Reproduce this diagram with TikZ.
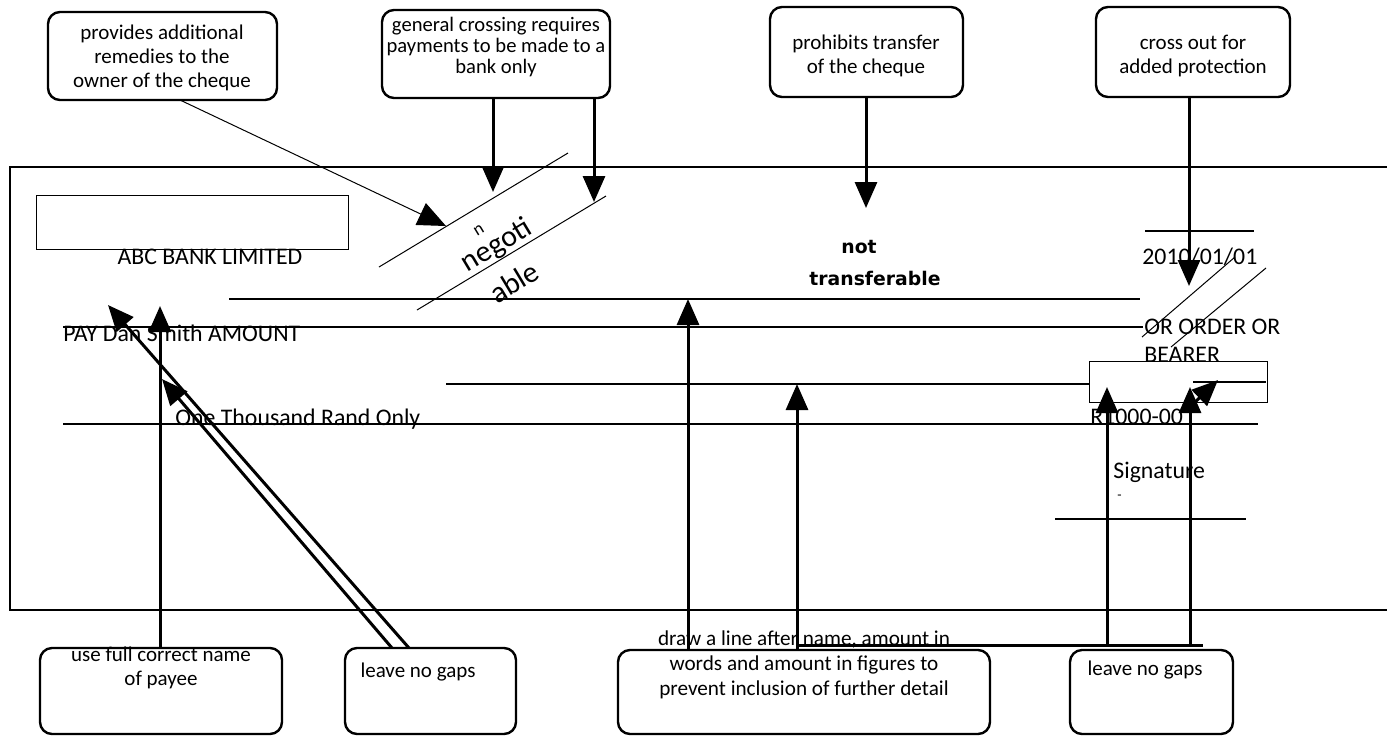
\documentclass[tikz,border=0pt]{standalone}
\usepackage{fontspec}
\setmainfont{Carlito}
\newfontfamily\dvs{DejaVu Sans}
\usetikzlibrary{arrows.meta}
\begin{document}
\begin{tikzpicture}[x=0.5pt,y=-0.5pt,
  callout/.style={draw,line width=1.2pt,rounded corners=6pt,inner sep=0pt},
  txt/.style={inner sep=0pt,font=\fontsize{10.5}{12}\selectfont,align=center},
  chq/.style={inner sep=0pt,font=\fontsize{11.9}{14}\selectfont},
  thinln/.style={line width=0.5pt},
  rule/.style={line width=0.75pt},
  arr/.style={line width=1.5pt,-{Triangle[length=13pt,width=11pt]}},
  thinarr/.style={line width=0.5pt,-{Triangle[length=14pt,width=12pt]}}]
\useasboundingbox (0,0) rectangle (1387,736);
% cheque outline
\draw[line width=0.7pt] (1387,167) -- (10,167) -- (10,610) -- (1387,610);
% top callouts
\node[callout,minimum width=114.5pt,minimum height=44pt] (A) at (162.5,56) {};
\node[callout,minimum width=114pt,minimum height=44pt] (B) at (496,54) {};
\node[callout,minimum width=96.5pt,minimum height=45pt] (C) at (866.5,52) {};
\node[callout,minimum width=97pt,minimum height=45pt] (D) at (1193,52) {};
\node[txt] (tA) at (162,58) {provides additional\\remedies to the\\owner of the cheque};
\node[txt,font=\fontsize{10.3}{10.5}\selectfont] (tB) at (496,47) {general crossing requires\\payments to be made to a\\bank only};
\node[txt] (tC) at (866,56) {prohibits transfer\\of the cheque};
\node[txt] (tD) at (1193,56) {cross out for\\added protection};
% bottom callouts
\node[callout,minimum width=121pt,minimum height=43pt] (E) at (161,691) {};
\node[callout,minimum width=85.5pt,minimum height=43pt] (F) at (430.5,691) {};
\node[callout,minimum width=186pt,minimum height=42pt] (G) at (804,692) {};
\node[callout,minimum width=81.5pt,minimum height=42pt] (H) at (1151.5,692) {};
\node[txt] (tE) at (161,668) {use full correct name\\of payee};
\node[txt] (tF) at (418,672) {leave no gaps};
\node[txt,font=\fontsize{10.6}{12.5}\selectfont] (tG) at (804,665) {draw a line after name, amount in\\words and amount in figures to\\prevent inclusion of further detail};
\node[txt] (tH) at (1145,670) {leave no gaps};
% cheque contents
\draw[thinln] (36,195) rectangle (348,249);
\node[chq] (bank) at (210,257) {ABC BANK LIMITED};
\node[chq,anchor=west] (pay) at (63,333) {PAY Dan Smith AMOUNT};
\node[chq,anchor=west] (words) at (175,419) {One Thousand Rand Only};
\node[chq,anchor=west] (fig) at (1090,417) {R1000-00};
\node[chq,anchor=west] (date) at (1142,257) {2010/01/01};
\node[chq,anchor=west,align=left] (order) at (1144,341) {OR ORDER OR\\BEARER};
\node[chq,anchor=west] (sig) at (1113,472) {Signature};
\node[chq,anchor=west,font=\fontsize{7}{8}\selectfont] (dash) at (1117,497) {-};
\node[inner sep=0pt,font=\dvs\bfseries\fontsize{9.4}{11}\selectfont] (not) at (859,247) {not};
\node[inner sep=0pt,font=\dvs\bfseries\fontsize{9.4}{11}\selectfont] (transf) at (875,278) {transferable};
% rules
\draw[rule] (229,299) -- (1140,299);
\draw[rule] (63,327) -- (1143,327);
\draw[rule] (446,384) -- (1090,384);
\draw[rule] (63,424) -- (1258,424);
\draw[rule] (1145,231) -- (1254,231);
\draw[rule] (1055,519) -- (1246,519);
\draw[thinln] (1089,361) rectangle (1267,402);
\draw[rule] (1193,382) -- (1266,382);
% crossings
\draw[thinln] (379,267) -- (568,153);
\draw[thinln] (417,310) -- (606,196);
\node[inner sep=0pt,rotate=31,font=\fontsize{9}{9}\selectfont] (nn) at (479,230) {n};
\node[inner sep=0pt,rotate=31,font=\fontsize{15}{15}\selectfont] (neg) at (497,246) {negoti};
\node[inner sep=0pt,rotate=31,font=\fontsize{15}{15}\selectfont] (able) at (514,282) {able};
\draw[thinln] (1142,337) -- (1235,257);
\draw[thinln] (1171,347) -- (1266,268);
% arrow tips
\coordinate (tipA) at (446,226);
\coordinate (tipB1) at (493,192);
\coordinate (tipB2) at (594,202);
\coordinate (tipC) at (866,208);
\coordinate (tipD) at (1189,286);
\coordinate (tipE) at (160,306);
\coordinate (tipF1) at (108,305);
\coordinate (tipF2) at (162,379);
\coordinate (tipG1) at (688,299);
\coordinate (tipG2) at (797,384);
\coordinate (tipH1) at (1107,387);
\coordinate (tipH2) at (1190,387);
\coordinate (tipH3) at (1218,380);
\coordinate (srcA) at (180,100);
\coordinate (srcF1) at (409,648);
\coordinate (srcF2) at (392,648);
\coordinate (joinL) at (797,645);
\coordinate (joinR) at (1203,645);
\coordinate (srcH3) at (1194,403);
% arrows
\draw[thinarr] (srcA) -- (tipA);
\draw[arr] (B.south -| tipB1) -- (tipB1);
\draw[arr] (B.south -| tipB2) -- (tipB2);
\draw[arr] (C.south -| tipC) -- (tipC);
\draw[arr] (D.south -| tipD) -- (tipD);
\draw[arr] (E.north -| tipE) -- (tipE);
\draw[arr] (srcF1) -- (tipF1);
\draw[arr] (srcF2) -- (tipF2);
\draw[arr] (G.north -| tipG1) -- (tipG1);
\draw[arr] (joinL |- G.north) -- (tipG2);
\draw[line width=1.5pt] (joinL) -- (joinR);
\draw[arr] (joinL -| tipH1) -- (tipH1);
\draw[arr] (joinL -| tipH2) -- (tipH2);
\draw[arr] (srcH3) -- (tipH3);
\end{tikzpicture}
\end{document}
